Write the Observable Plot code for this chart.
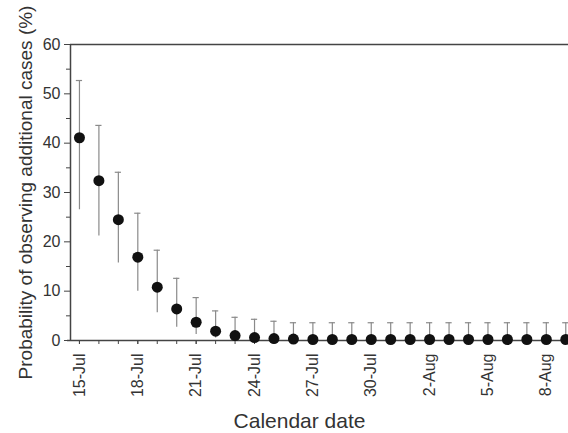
<!DOCTYPE html>
<html>
<head>
<meta charset="utf-8">
<script src="https://cdn.jsdelivr.net/npm/d3@7"></script>
<script src="https://cdn.jsdelivr.net/npm/@observablehq/plot@0.6"></script>
<style>
  html, body { margin: 0; padding: 0; background: #fff; }
</style>
</head>
<body>
<div id="chart"></div>
<script>
// Calendar dates (one per observation)
const dates = ["15-Jul","16-Jul","17-Jul","18-Jul","19-Jul","20-Jul","21-Jul","22-Jul","23-Jul","24-Jul",
  "25-Jul","26-Jul","27-Jul","28-Jul","29-Jul","30-Jul","31-Jul","1-Aug","2-Aug","3-Aug",
  "4-Aug","5-Aug","6-Aug","7-Aug","8-Aug","9-Aug"];
// Probability of observing additional cases (%)
const prob  = [41.1, 32.4, 24.5, 16.9, 10.8, 6.4, 3.7, 1.9, 1.0, 0.6, 0.4, 0.3, 0.2, 0.2, 0.2, 0.2, 0.2, 0.2, 0.2, 0.2, 0.2, 0.2, 0.2, 0.2, 0.2, 0.2];
const upper = [52.7, 43.6, 34.1, 25.8, 18.3, 12.6, 8.7, 6.0, 4.7, 4.3, 3.9, 3.6, 3.6, 3.6, 3.6, 3.6, 3.6, 3.6, 3.6, 3.6, 3.6, 3.6, 3.6, 3.6, 3.6, 3.6];
const lower = [26.5, 21.2, 15.7, 10.0, 5.6, 2.7, 1.2, 0.5, 0.2, 0.1, 0.05, 0, 0, 0, 0, 0, 0, 0, 0, 0, 0, 0, 0, 0, 0, 0];
// Tick labels
const tickLabels = ["15-Jul","18-Jul","21-Jul","24-Jul","27-Jul","30-Jul","2-Aug","5-Aug","8-Aug"];
const yTicks = [0, 10, 20, 30, 40, 50, 60];
const yMinor = [5, 15, 25, 35, 45, 55];
const yTitle = "Probability of observing additional cases (%)";
const xTitle = "Calendar date";

const data = dates.map((d, i) => ({i, date: d, p: prob[i], lo: lower[i], hi: upper[i]}));
const labelIdx = tickLabels.map(t => dates.indexOf(t));
const allIdx = dates.map((d, i) => i);

const axisColor = "#444";
const textColor = "#333";

const chart = Plot.plot({
  width: 568,
  height: 433,
  marginLeft: 70,
  marginRight: 0,
  marginTop: 44,
  marginBottom: 93,
  x: {type: "linear", domain: [-0.46, 25.14]},
  y: {domain: [0, 60]},
  style: {fontFamily: "'Liberation Sans', Arial, sans-serif", fontSize: "16px", color: textColor, background: "#fff", overflow: "visible"},
  marks: [
    // error bars
    Plot.ruleX(data, {x: "i", y1: "lo", y2: "hi", stroke: "#8a8a8a", strokeWidth: 1.2}),
    Plot.ruleY(data, {y: "hi", x1: d => d.i - 0.16, x2: d => d.i + 0.16, stroke: "#8a8a8a", strokeWidth: 1.2}),
    // axes lines / frame
    Plot.ruleY([0], {x1: -0.62, x2: 25.14, stroke: axisColor, strokeWidth: 1.5}),
    Plot.ruleY([60], {stroke: axisColor, strokeWidth: 1.5}),
    Plot.ruleX([-0.46], {y1: 0, y2: 60, stroke: axisColor, strokeWidth: 1.5}),
    // y axis
    Plot.axisY({ticks: yTicks, tickSize: 6, tickPadding: 4, stroke: axisColor, fill: textColor, fontSize: 16, label: null}),
    Plot.axisY({ticks: yMinor, tickSize: 4, text: null, stroke: axisColor, label: null}),
    // x axis
    Plot.axisX({ticks: allIdx, tickSize: 4, text: null, stroke: axisColor, label: null}),
    Plot.axisX({ticks: labelIdx, tickSize: 4, tickRotate: -90, tickPadding: 9, tickFormat: i => dates[i], stroke: axisColor, fill: textColor, fontSize: 16, label: null}),
    // points
    Plot.dot(data, {x: "i", y: "p", r: 5.5, fill: "#111", stroke: "none"}),
    // titles
    Plot.text([yTitle], {frameAnchor: "left", textAnchor: "middle", lineAnchor: "middle", rotate: -90, dx: -45, fontSize: 19, fill: textColor}),
    Plot.text([xTitle], {frameAnchor: "bottom", textAnchor: "middle", lineAnchor: "middle", dy: 81, dx: -20, fontSize: 21, fill: textColor})
  ]
});
document.getElementById("chart").appendChild(chart);
</script>
</body>
</html>
